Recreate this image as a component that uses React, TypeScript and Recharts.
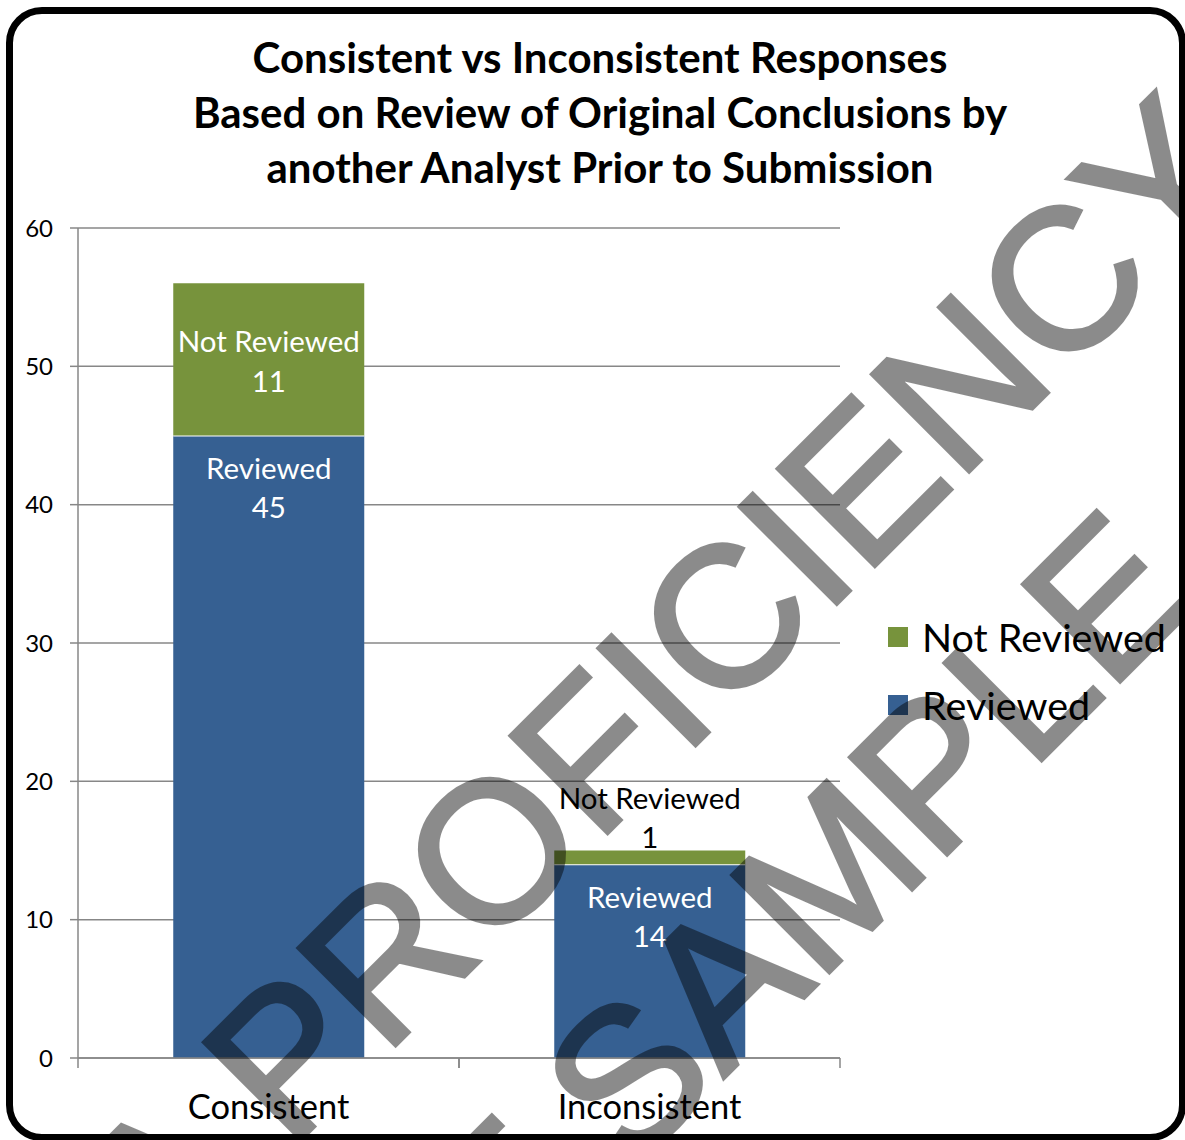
import React from 'react';
import { BarChart, Bar, XAxis, YAxis, CartesianGrid, Legend, LabelList } from 'recharts';

const categories = ['Consistent', 'Inconsistent'];
const reviewedValues = [45, 14];
const notReviewedValues = [11, 1];
const seriesNames = ['Reviewed', 'Not Reviewed'];
const yTicks = [0, 10, 20, 30, 40, 50, 60];
const titleLines = [
  'Consistent vs Inconsistent Responses',
  'Based on Review of Original Conclusions by',
  'another Analyst Prior to Submission',
];
const watermarkLines = ['A PROFICIENCY', 'TEST SAMPLE'];

const data = categories.map((category, i) => ({
  category,
  reviewed: reviewedValues[i],
  notReviewed: notReviewedValues[i],
}));

const W = 1185;
const H = 1140;
const MARGIN = { top: 228, right: 345, bottom: 42, left: 0 };
const Y_AXIS_W = 78;
const BAND = (W - MARGIN.left - MARGIN.right - Y_AXIS_W) / categories.length;

const BLUE = '#366092';
const GREEN = '#77933c';
const GRID = '#878787';
const FONT = 'Lato, "Open Sans", sans-serif';
const LABEL_SIZE = 29.5;

// blue segment, with the thin white seam on top of it
const ReviewedShape = (props: any) => {
  const { x, y, width, height, fill } = props;
  return (
    <g>
      <rect x={x} y={y} width={width} height={height} fill={fill} />
      <line x1={x} x2={x + width} y1={y} y2={y} stroke="#fff" strokeWidth={2} />
    </g>
  );
};

const ReviewedLabel = (props: any) => {
  const { x, y, width, value } = props;
  const cx = x + width / 2;
  return (
    <g fontFamily={FONT} fontSize={LABEL_SIZE} fill="#fff" textAnchor="middle">
      <text x={cx} y={y + 32} dominantBaseline="central">{seriesNames[0]}</text>
      <text x={cx} y={y + 71} dominantBaseline="central">{value}</text>
    </g>
  );
};

const NotReviewedLabel = (props: any) => {
  const { x, y, width, height, value } = props;
  const cx = x + width / 2;
  // tall segment: label centred inside, thin one: label sits above it
  if (height > 80) {
    const cy = y + height / 2;
    return (
      <g fontFamily={FONT} fontSize={LABEL_SIZE} fill="#fff" textAnchor="middle">
        <text x={cx} y={cy - 19} dominantBaseline="central">{seriesNames[1]}</text>
        <text x={cx} y={cy + 21} dominantBaseline="central">{value}</text>
      </g>
    );
  }
  return (
    <g fontFamily={FONT} fontSize={LABEL_SIZE} fill="#000" textAnchor="middle">
      <text x={cx} y={y - 53} dominantBaseline="central">{seriesNames[1]}</text>
      <text x={cx} y={y - 14} dominantBaseline="central">{value}</text>
    </g>
  );
};

const CategoryTick = (props: any) => {
  const { x, y, payload } = props;
  return (
    <g>
      <line x1={x - BAND / 2} x2={x - BAND / 2} y1={y - 10} y2={y} stroke={GRID} strokeWidth={1.5} />
      <line x1={x + BAND / 2} x2={x + BAND / 2} y1={y - 10} y2={y} stroke={GRID} strokeWidth={1.5} />
      <text x={x} y={y + 37} textAnchor="middle" dominantBaseline="central" fontSize={34.5} fontFamily={FONT} fill="#000">
        {payload.value}
      </text>
    </g>
  );
};

const renderLegend = (props: any) => {
  const items = props.payload || [];
  return (
    <div>
      {items.map((it: any) => (
        <div key={it.value} style={{ display: 'flex', alignItems: 'center', height: 68 }}>
          <span style={{ width: 20, height: 20, background: it.color, marginRight: 14, display: 'inline-block' }} />
          <span style={{ fontSize: 39.5, fontFamily: FONT, color: '#000', lineHeight: '68px' }}>{it.value}</span>
        </div>
      ))}
    </div>
  );
};

export default function App() {
  return (
    <div style={{ position: 'fixed', left: 0, top: 0, width: W, height: H, overflow: 'hidden', background: '#fff' }}>
      <div
        style={{
          position: 'absolute', left: 6, top: 7, width: 1180, height: 1134,
          border: '7px solid #000', borderRadius: 36, boxSizing: 'border-box',
        }}
      />
      <div
        style={{
          position: 'absolute', left: 0, top: 30, width: 1200, textAlign: 'center',
          fontFamily: FONT, fontWeight: 700, fontSize: 42, lineHeight: '55px', color: '#000',
        }}
      >
        {titleLines.map((t) => <div key={t}>{t}</div>)}
      </div>
      <div style={{ position: 'absolute', left: 0, top: 0 }}>
        <BarChart width={W} height={H} data={data} margin={MARGIN} barCategoryGap="25%">
          <CartesianGrid horizontal vertical={false} stroke={GRID} strokeWidth={1.5} />
          <XAxis
            dataKey="category"
            height={40}
            axisLine={{ stroke: GRID, strokeWidth: 1.5 }}
            tickLine={false}
            tickSize={10}
            tickMargin={0}
            tick={<CategoryTick />}
          />
          <YAxis
            width={Y_AXIS_W}
            domain={[0, 60]}
            ticks={yTicks}
            interval={0}
            axisLine={{ stroke: GRID, strokeWidth: 1.5 }}
            tickLine={{ stroke: GRID, strokeWidth: 1.5 }}
            tickSize={8}
            tickMargin={17}
            tick={{ fontSize: 24, fill: '#000', fontFamily: FONT }}
          />
          <Legend
            layout="vertical"
            align="center"
            verticalAlign="middle"
            wrapperStyle={{ left: 888, top: 603, width: 300 }}
            content={renderLegend}
          />
          <Bar dataKey="reviewed" name={seriesNames[0]} stackId="a" fill={BLUE} shape={<ReviewedShape />} isAnimationActive={false}>
            <LabelList dataKey="reviewed" content={<ReviewedLabel />} />
          </Bar>
          <Bar dataKey="notReviewed" name={seriesNames[1]} stackId="a" fill={GREEN} isAnimationActive={false}>
            <LabelList dataKey="notReviewed" content={<NotReviewedLabel />} />
          </Bar>
        </BarChart>
      </div>
      <svg width={W} height={H} style={{ position: 'absolute', left: 0, top: 0, pointerEvents: 'none' }}>
        <g opacity={0.45} fontFamily='"Liberation Sans", Arial, sans-serif' fontSize={200} textAnchor="middle" fill="#000" stroke="#000" strokeWidth={4}>
          <text transform="translate(659 680) rotate(-45)" y={72}>{watermarkLines[0]}</text>
          <text transform="translate(666 1034) rotate(-45)" y={72}>{watermarkLines[1]}</text>
        </g>
      </svg>
    </div>
  );
}
